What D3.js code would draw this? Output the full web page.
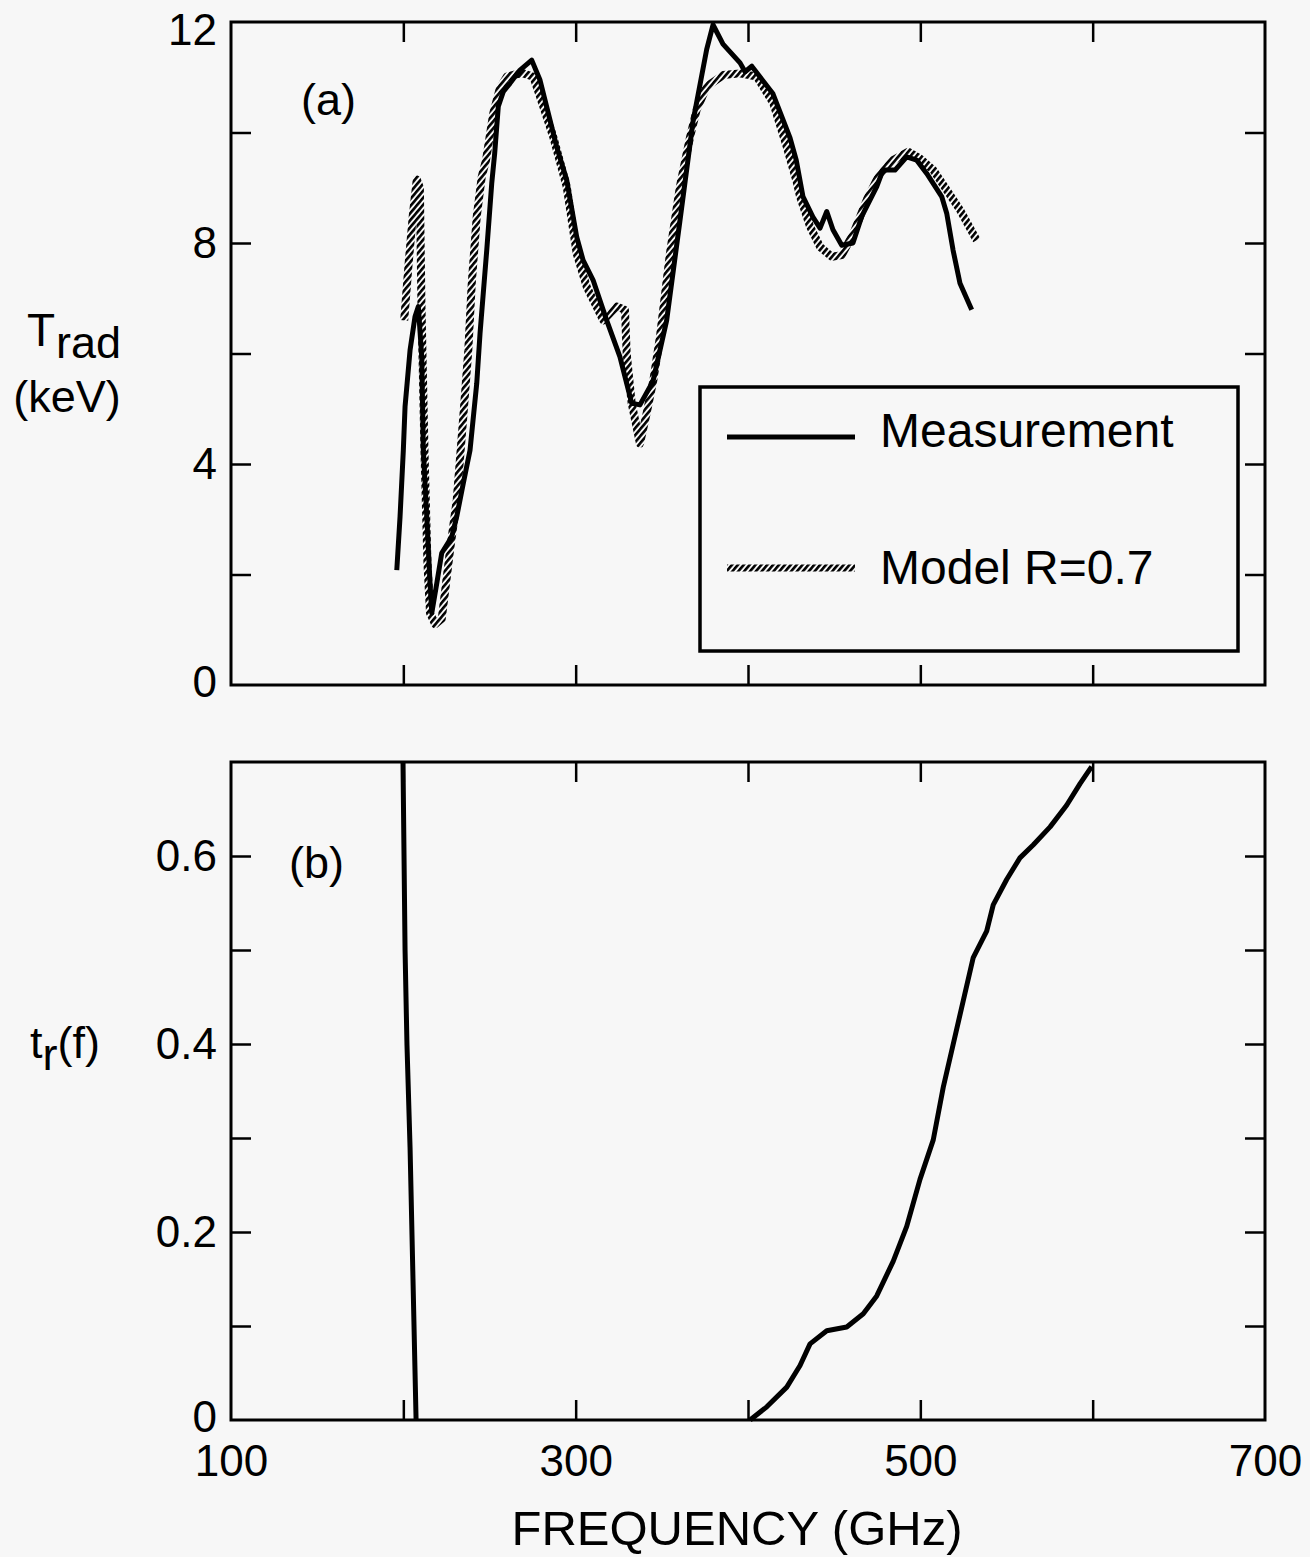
<!DOCTYPE html>
<html>
<head>
<meta charset="utf-8">
<script src="https://cdn.jsdelivr.net/npm/d3@7"></script>
<style>
  html, body { margin: 0; padding: 0; background: #f7f7f7; }
  svg { display: block; }
  text { font-family: "Liberation Sans", Arial, Helvetica, sans-serif; fill: #000; }
</style>
</head>
<body>
<svg id="chart" width="1310" height="1557"></svg>
<script>
// ---------- DATA ----------
const measFreq = [196.2,198.1,200,201,203.9,206.8,208.7,210.7,211.6,213.6,215.5,216.5,219.4,222.3,228.1,231,234.8,238.7,242.6,244.5,248.4,251.3,253,255.1,258,261.9,267.7,274.5,279.3,289,294.8,300.6,304.3,310.1,318,325.7,332.5,337.3,344.9,352.8,360.5,368.1,376,379.7,385.5,395.4,398.3,402.2,414.5,424.4,428,431.9,437.7,441.8,445.7,449.3,454.4,460.9,466,474.7,478.3,485.3,492.1,497.9,503.7,512.4,515.3,519,523,529.8];
const measT    = [2.08,3.05,4.25,5.04,6.06,6.67,6.85,5.94,4.25,3.05,1.84,1.3,1.84,2.39,2.68,3.05,3.65,4.25,5.46,6.36,7.87,9.08,9.62,10.47,10.74,10.89,11.13,11.31,10.95,9.74,9.14,8.11,7.69,7.33,6.6,5.94,5.1,5.07,5.5,6.6,8.4,10.2,11.5,11.95,11.6,11.26,11.1,11.2,10.7,9.9,9.5,8.84,8.47,8.27,8.57,8.24,7.96,8.0,8.48,9.02,9.32,9.32,9.56,9.5,9.26,8.84,8.54,7.87,7.27,6.79];

const modelFreq = [200.5,203,205.5,207.8,209.6,210.5,212.3,214,215.5,218.5,222.3,227.1,231,234.8,237.7,239.7,242.6,245.5,248,252.2,256,260,264.5,269.6,275.4,279.3,287,294.8,300.6,306.4,316,319.9,323.8,328.6,329.6,332.5,337.3,341.2,345.1,348.9,354.7,360.5,366.4,370.2,376,385.7,395.4,405.1,414.7,422.5,428.3,430.2,436,441.8,448.6,454.4,461.1,468.9,476.6,484.3,493,499.8,507.5,515.3,523,532.7];
const modelT    = [6.6,7.6,8.5,9.15,9.0,6.9,4.2,2.2,1.3,1.1,1.2,2.44,3.35,4.86,6.06,7.27,8.48,9.2,9.5,10.35,10.8,11.01,11.05,11.07,11.01,10.65,9.92,9.02,7.81,7.21,6.6,6.73,6.85,6.79,6.0,5.1,4.37,4.92,5.52,6.3,7.81,9.02,9.92,10.41,10.83,11.04,11.07,11.01,10.53,9.74,9.1,8.84,8.3,7.93,7.75,7.78,8.17,8.78,9.26,9.5,9.65,9.53,9.32,8.96,8.6,8.05];

// panel (b): two branches of t_r(f)
const trLowFreq  = [199.8,201,202.1,203.9,205.6,207.4];
const trLowVal   = [0.70,0.50,0.40,0.29,0.15,0.0];
const trHighFreq = [401.2,410.9,422.5,430.2,436,445.7,457.3,466.9,474.7,484.3,492.1,499.8,507.5,513.3,519.1,524.9,530.7,538.5,542.3,550.1,557.8,565.6,575.3,584.9,592.7,599.4];
const trHighVal  = [0.0,0.014,0.035,0.058,0.081,0.095,0.099,0.113,0.132,0.169,0.206,0.256,0.298,0.354,0.40,0.446,0.492,0.52,0.548,0.575,0.598,0.612,0.631,0.654,0.677,0.695];

const xTicks = [100,200,300,400,500,600,700];
const xTickLabels = ["100","","300","","500","","700"];
const yTopTicks = [0,2,4,6,8,10,12];
const yTopLabels = ["0","","4","","8","","12"];
const yBotTicks = [0,0.1,0.2,0.3,0.4,0.5,0.6,0.7];
const yBotLabels = ["0","","0.2","","0.4","","0.6",""];

const legendLabels = ["Measurement","Model R=0.7"];

// ---------- LAYOUT ----------
const svg = d3.select("#chart");
const X0 = 231, X1 = 1265;
const topY0 = 685, topY1 = 22;
const botY0 = 1420, botY1 = 762;
const TICK = 20;
const TF = "44px";

const x = d3.scaleLinear().domain([100,700]).range([X0,X1]);
const yTop = d3.scaleLinear().domain([0,12]).range([topY0,topY1]);
const yBot = d3.scaleLinear().domain([0,0.7]).range([botY0,botY1]);

// hatch pattern for model curve
const defs = svg.append("defs");
const pat = defs.append("pattern")
  .attr("id","hatch").attr("patternUnits","userSpaceOnUse")
  .attr("width",4.5).attr("height",4.5)
  .attr("patternTransform","rotate(40)");
pat.append("rect").attr("width",4.5).attr("height",4.5).attr("fill","#f7f7f7");
pat.append("rect").attr("x",0).attr("y",0).attr("width",2.6).attr("height",4.5).attr("fill","#000");

function styleAxis(g, showLabels){
  g.select(".domain").remove();
  g.selectAll(".tick line").attr("stroke","#000").attr("stroke-width",2.5);
  g.selectAll(".tick text").style("font-size",TF);
  if(!showLabels) g.selectAll(".tick text").remove();
}

function drawFrame(yS, yTicks, yLabels, yMinTick, yMaxTick, showXLabels){
  const y0 = yS.range()[0], y1 = yS.range()[1];
  const left = svg.append("g").attr("transform",`translate(${X0},0)`)
    .call(d3.axisLeft(yS).tickValues(yTicks).tickSizeInner(-TICK).tickSizeOuter(0).tickPadding(14)
      .tickFormat((d,i)=>yLabels[i]));
  styleAxis(left, true);
  left.selectAll(".tick line").filter(d=>d===yMinTick||d===yMaxTick).remove();
  // keep the topmost label inside the page, as in the original
  left.selectAll(".tick text").filter(d=>d===12).attr("dy","0.52em");
  left.selectAll(".tick text").filter(d=>d===0).attr("dy","0.26em");
  const right = svg.append("g").attr("transform",`translate(${X1},0)`)
    .call(d3.axisRight(yS).tickValues(yTicks).tickSizeInner(-TICK).tickSizeOuter(0));
  styleAxis(right, false);
  right.selectAll(".tick line").filter(d=>d===yMinTick||d===yMaxTick).remove();
  const bottom = svg.append("g").attr("transform",`translate(0,${y0})`)
    .call(d3.axisBottom(x).tickValues(xTicks).tickSizeInner(-TICK).tickSizeOuter(0).tickPadding(14)
      .tickFormat((d,i)=>xTickLabels[i]));
  styleAxis(bottom, showXLabels);
  bottom.selectAll(".tick line").filter(d=>d===100||d===700).remove();
  bottom.selectAll(".tick text").attr("dy","0.95em");
  const top = svg.append("g").attr("transform",`translate(0,${y1})`)
    .call(d3.axisTop(x).tickValues(xTicks).tickSizeInner(-TICK).tickSizeOuter(0));
  styleAxis(top, false);
  top.selectAll(".tick line").filter(d=>d===100||d===700).remove();
  svg.append("rect").attr("x",X0).attr("y",y1).attr("width",X1-X0).attr("height",y0-y1)
    .attr("fill","none").attr("stroke","#000").attr("stroke-width",3);
}

// ---------- PANEL (a) ----------
const lineTop = d3.line().x(d=>x(d[0])).y(d=>yTop(d[1]));
const modelData = modelFreq.map((f,i)=>[f,modelT[i]]);
const measData = measFreq.map((f,i)=>[f,measT[i]]);

svg.append("path").datum(modelData).attr("d",lineTop)
  .attr("fill","none").attr("stroke","url(#hatch)").attr("stroke-width",8)
  .attr("stroke-linejoin","round");
svg.append("path").datum(measData).attr("d",lineTop)
  .attr("fill","none").attr("stroke","#000").attr("stroke-width",5)
  .attr("stroke-linejoin","round");

drawFrame(yTop, yTopTicks, yTopLabels, 0, 12, false);

// legend
const lg = svg.append("g");
lg.append("rect").attr("x",700).attr("y",387).attr("width",538).attr("height",264)
  .attr("fill","#f7f7f7").attr("stroke","#000").attr("stroke-width",3.5);
lg.append("line").attr("x1",727).attr("x2",855).attr("y1",437).attr("y2",437)
  .attr("stroke","#000").attr("stroke-width",5);
lg.append("line").attr("x1",727).attr("x2",855).attr("y1",568).attr("y2",568)
  .attr("stroke","url(#hatch)").attr("stroke-width",7);
lg.append("text").attr("x",880).attr("y",447).style("font-size","48px").text(legendLabels[0]);
lg.append("text").attr("x",880).attr("y",584).style("font-size","48px").text(legendLabels[1]);

svg.append("text").attr("x",301).attr("y",115).style("font-size","45px").text("(a)");

// y label (a)
const tl = svg.append("text").attr("x",27).attr("y",346).style("font-size","46px");
tl.append("tspan").text("T");
tl.append("tspan").attr("dx",1).attr("dy",12).style("font-size","45px").text("rad");
svg.append("text").attr("x",67).attr("y",412).attr("text-anchor","middle").style("font-size","45px").text("(keV)");

// ---------- PANEL (b) ----------
const lineBot = d3.line().x(d=>x(d[0])).y(d=>yBot(d[1]));
svg.append("path").datum(trLowFreq.map((f,i)=>[f,trLowVal[i]])).attr("d",lineBot)
  .attr("fill","none").attr("stroke","#000").attr("stroke-width",5);
svg.append("path").datum(trHighFreq.map((f,i)=>[f,trHighVal[i]])).attr("d",lineBot)
  .attr("fill","none").attr("stroke","#000").attr("stroke-width",5).attr("stroke-linejoin","round");

drawFrame(yBot, yBotTicks, yBotLabels, 0, 0.7, true);

svg.append("text").attr("x",289).attr("y",878).style("font-size","45px").text("(b)");

const tr = svg.append("text").attr("x",30).attr("y",1058).style("font-size","45px");
tr.append("tspan").text("t");
tr.append("tspan").attr("dy",12).text("r");
tr.append("tspan").attr("dy",-12).text("(f)");

svg.append("text").attr("x",737).attr("y",1545).attr("text-anchor","middle")
  .style("font-size","49px").text("FREQUENCY (GHz)");
</script>
</body>
</html>
